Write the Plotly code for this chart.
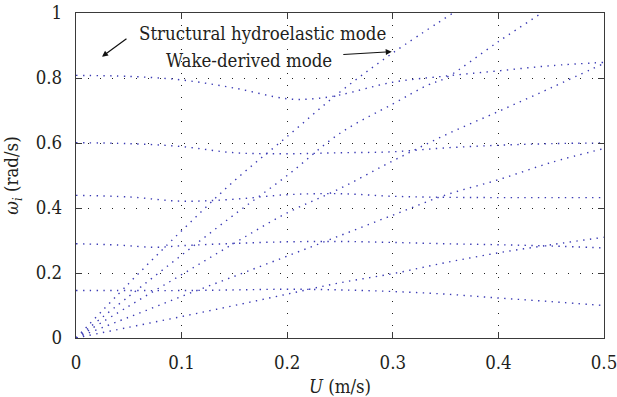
import plotly.graph_objects as go

# ---------------- data ----------------
# Structural hydroelastic modes
U_s1 = [0, 0.05, 0.1, 0.15, 0.2, 0.25, 0.3, 0.35, 0.4, 0.45, 0.5]
w_s1 = [0.146, 0.146, 0.146, 0.148, 0.150, 0.148, 0.143, 0.135, 0.123, 0.112, 0.100]

U_s2 = [0, 0.04, 0.075, 0.1, 0.15, 0.2, 0.25, 0.3, 0.35, 0.4, 0.45, 0.5]
w_s2 = [0.290, 0.286, 0.279, 0.284, 0.291, 0.296, 0.297, 0.294, 0.290, 0.287, 0.283, 0.277]

U_s3 = [0, 0.05, 0.1, 0.15, 0.2, 0.25, 0.3, 0.35, 0.4, 0.45, 0.5]
w_s3 = [0.439, 0.434, 0.421, 0.427, 0.441, 0.444, 0.436, 0.433, 0.432, 0.432, 0.432]

U_s4 = [0, 0.05, 0.1, 0.15, 0.2, 0.25, 0.3, 0.35, 0.4, 0.45, 0.5]
w_s4 = [0.601, 0.598, 0.589, 0.570, 0.567, 0.570, 0.573, 0.585, 0.593, 0.598, 0.600]

U_s5 = [0, 0.05, 0.1, 0.15, 0.2, 0.225, 0.25, 0.3, 0.35, 0.4, 0.45, 0.5]
w_s5 = [0.808, 0.805, 0.794, 0.769, 0.736, 0.736, 0.748, 0.787, 0.806, 0.822, 0.838, 0.848]

# Wake-derived modes
U_w1 = [0, 0.05, 0.1, 0.15, 0.2, 0.25, 0.3, 0.357]
w_w1 = [0, 0.168, 0.330, 0.484, 0.620, 0.757, 0.877, 1.0]

U_w2 = [0, 0.05, 0.1, 0.15, 0.2, 0.25, 0.3, 0.333, 0.35, 0.4, 0.441]
w_w2 = [0, 0.128, 0.255, 0.380, 0.500, 0.630, 0.720, 0.778, 0.800, 0.912, 1.0]

U_w3 = [0, 0.05, 0.1, 0.15, 0.2, 0.25, 0.3, 0.35, 0.4, 0.45, 0.5]
w_w3 = [0, 0.098, 0.195, 0.292, 0.385, 0.460, 0.545, 0.625, 0.697, 0.770, 0.845]

U_w4 = [0, 0.05, 0.1, 0.15, 0.2, 0.25, 0.3, 0.35, 0.4, 0.45, 0.5]
w_w4 = [0, 0.064, 0.128, 0.190, 0.252, 0.315, 0.378, 0.440, 0.487, 0.540, 0.583]

U_w5 = [0, 0.05, 0.1, 0.15, 0.2, 0.25, 0.3, 0.35, 0.4, 0.45, 0.5]
w_w5 = [0, 0.033, 0.066, 0.100, 0.135, 0.170, 0.198, 0.232, 0.262, 0.287, 0.310]

curves = [
    (U_s1, w_s1), (U_s2, w_s2), (U_s3, w_s3), (U_s4, w_s4), (U_s5, w_s5),
    (U_w1, w_w1), (U_w2, w_w2), (U_w3, w_w3), (U_w4, w_w4), (U_w5, w_w5),
]

x_tickvals = [0, 0.1, 0.2, 0.3, 0.4, 0.5]
x_ticktext = ["0", "0.1", "0.2", "0.3", "0.4", "0.5"]
y_tickvals = [0, 0.2, 0.4, 0.6, 0.8, 1.0]
y_ticktext = ["0", "0.2", "0.4", "0.6", "0.8", "1"]

label_struct = "Structural hydroelastic mode"
label_wake = "Wake-derived mode"

# ---------------- figure ----------------
FONT = "DejaVu Serif Condensed"
FS = 18.5
TXT = "#231f20"
DOT = "#3a3ab4"

fig = go.Figure()
for U, w in curves:
    fig.add_trace(go.Scatter(
        x=U, y=w, mode="lines",
        line=dict(color=DOT, width=1.4, dash="1.4px,5.4px", shape="spline", smoothing=1.0),
        showlegend=False, hoverinfo="skip",
    ))

axis_common = dict(
    showline=True, linecolor="#3a3a3a", linewidth=1.3, mirror="ticks",
    ticks="inside", ticklen=6, tickwidth=1.3, tickcolor="#3a3a3a",
    showgrid=True, gridcolor="#222222", gridwidth=1, griddash="1px,11px",
    zeroline=False, automargin=False, ticklabeloverflow="allow",
    tickfont=dict(family=FONT, size=FS, color=TXT),
)

fig.update_xaxes(
    range=[0, 0.5], tickvals=x_tickvals, ticktext=x_ticktext,
    ticklabelstandoff=8,
    title=dict(text="<i>U</i> (m/s)", font=dict(family=FONT, size=FS, color=TXT), standoff=7),
    **axis_common,
)
fig.update_yaxes(
    range=[0, 1], tickvals=y_tickvals, ticktext=y_ticktext,
    ticklabelstandoff=9,
    title=dict(text="<i>ω<sub>i</sub></i> (rad/s)", font=dict(family=FONT, size=FS, color=TXT), standoff=12),
    **axis_common,
)

fig.add_annotation(x=0.1765, y=0.936, xref="x", yref="y", text=label_struct,
                   showarrow=False, font=dict(family=FONT, size=FS, color=TXT))
fig.add_annotation(x=0.1637, y=0.853, xref="x", yref="y", text=label_wake,
                   showarrow=False, font=dict(family=FONT, size=FS, color=TXT))
# arrows
fig.add_annotation(x=0.0246, y=0.8655, ax=0.0492, ay=0.924, xref="x", yref="y",
                   axref="x", ayref="y", text="", showarrow=True, arrowhead=2,
                   arrowsize=1, arrowwidth=1.2, arrowcolor="#111111")
fig.add_annotation(x=0.299, y=0.881, ax=0.2517, ay=0.872, xref="x", yref="y",
                   axref="x", ayref="y", text="", showarrow=True, arrowhead=2,
                   arrowsize=1, arrowwidth=1.2, arrowcolor="#111111")

fig.update_layout(
    width=617, height=397,
    margin=dict(l=76, r=13, t=13, b=59),
    paper_bgcolor="white", plot_bgcolor="white",
    showlegend=False,
)

fig.write_html("out.html", config={"displayModeBar": False},
               post_script="document.body.style.margin='0';document.body.style.padding='0';")
